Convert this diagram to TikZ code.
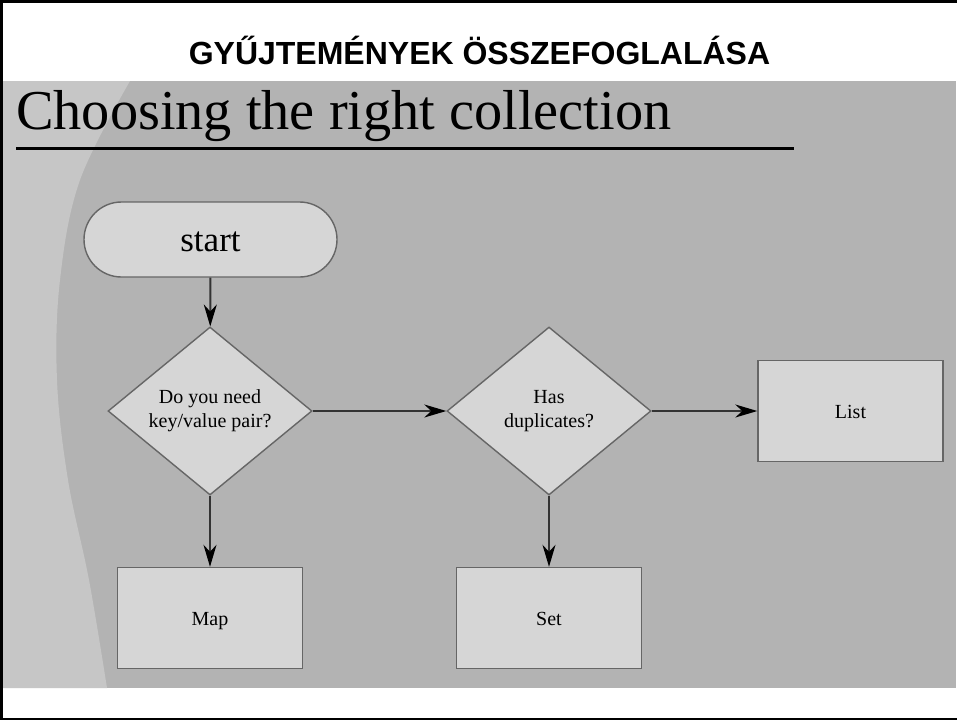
\documentclass[tikz,border=0pt]{standalone}
\usepackage{fontspec}
\setmainfont{Liberation Serif}
\newfontfamily\headfont{Liberation Sans}
\usetikzlibrary{arrows.meta,shapes.geometric,shapes.misc}
\definecolor{slidegray}{HTML}{B3B3B3}
\definecolor{lightband}{HTML}{C6C6C6}
\definecolor{nodefill}{HTML}{D6D6D6}
\definecolor{nodeline}{HTML}{666666}
\definecolor{linkline}{HTML}{333333}
\tikzset{
  base/.style={draw=nodeline, line width=1.4pt, fill=nodefill, inner sep=0pt, align=center,
    font=\fontsize{20}{24}\selectfont},
  terminal/.style={base, rounded rectangle, minimum width=253pt, minimum height=75pt},
  decision/.style={base, diamond, minimum width=204pt, minimum height=168pt},
  procbox/.style={base, rectangle, minimum width=185pt, minimum height=101pt,
    text height=14pt, text depth=0pt},
  link/.style={draw=linkline, line width=2pt,
    -{Stealth[length=22pt, width=13pt, inset=7pt, fill=black, color=black]}}
}
\begin{document}
\begin{tikzpicture}[x=1pt, y=-1pt]
\useasboundingbox (0,0) rectangle (957,720);
\fill[white] (0,0) rectangle (957,720);
% slide background
\fill[slidegray] (3,81) rectangle (956,688);
\fill[lightband] (3,81) -- (130,81)
  -- plot[smooth, tension=0.6] coordinates {(130,81) (80,180) (60,280) (57,380) (68,480) (89,580) (107,688)}
  -- (3,688) -- cycle;
% frame
\draw[black, line width=2.5pt] (957,1.25) -- (1.25,1.25) -- (1.25,718.75) -- (957,718.75);
% header
\node[font=\headfont\bfseries\fontsize{32}{38}\selectfont, anchor=base] (hdr) at (479.5,64) {GYŰJTEMÉNYEK ÖSSZEFOGLALÁSA};
% title
\node[font=\fontsize{56.3}{66}\selectfont, anchor=base west, inner sep=0pt] (ttl) at (16,129) {Choosing the right collection};
\draw[black, line width=3pt] (16,148) -- (794,148);
% nodes
\node[terminal, font=\fontsize{35}{40}\selectfont, text height=24pt, text depth=0pt] (start) at (210.5,239.5) {start};
\node[decision] (kv) at (210,411) {Do you need\\key/value pair?};
\node[decision] (dup) at (549,411) {Has\\duplicates?};
\node[procbox] (list) at (850.5,411) {List};
\node[procbox] (map) at (210,618) {Map};
\node[procbox] (set) at (549,618) {Set};
% links
\draw[link] (start) -- (kv);
\draw[link] (kv) -- (dup);
\draw[link] (dup) -- (list);
\draw[link] (kv) -- (map);
\draw[link] (dup) -- (set);
\end{tikzpicture}
\end{document}
